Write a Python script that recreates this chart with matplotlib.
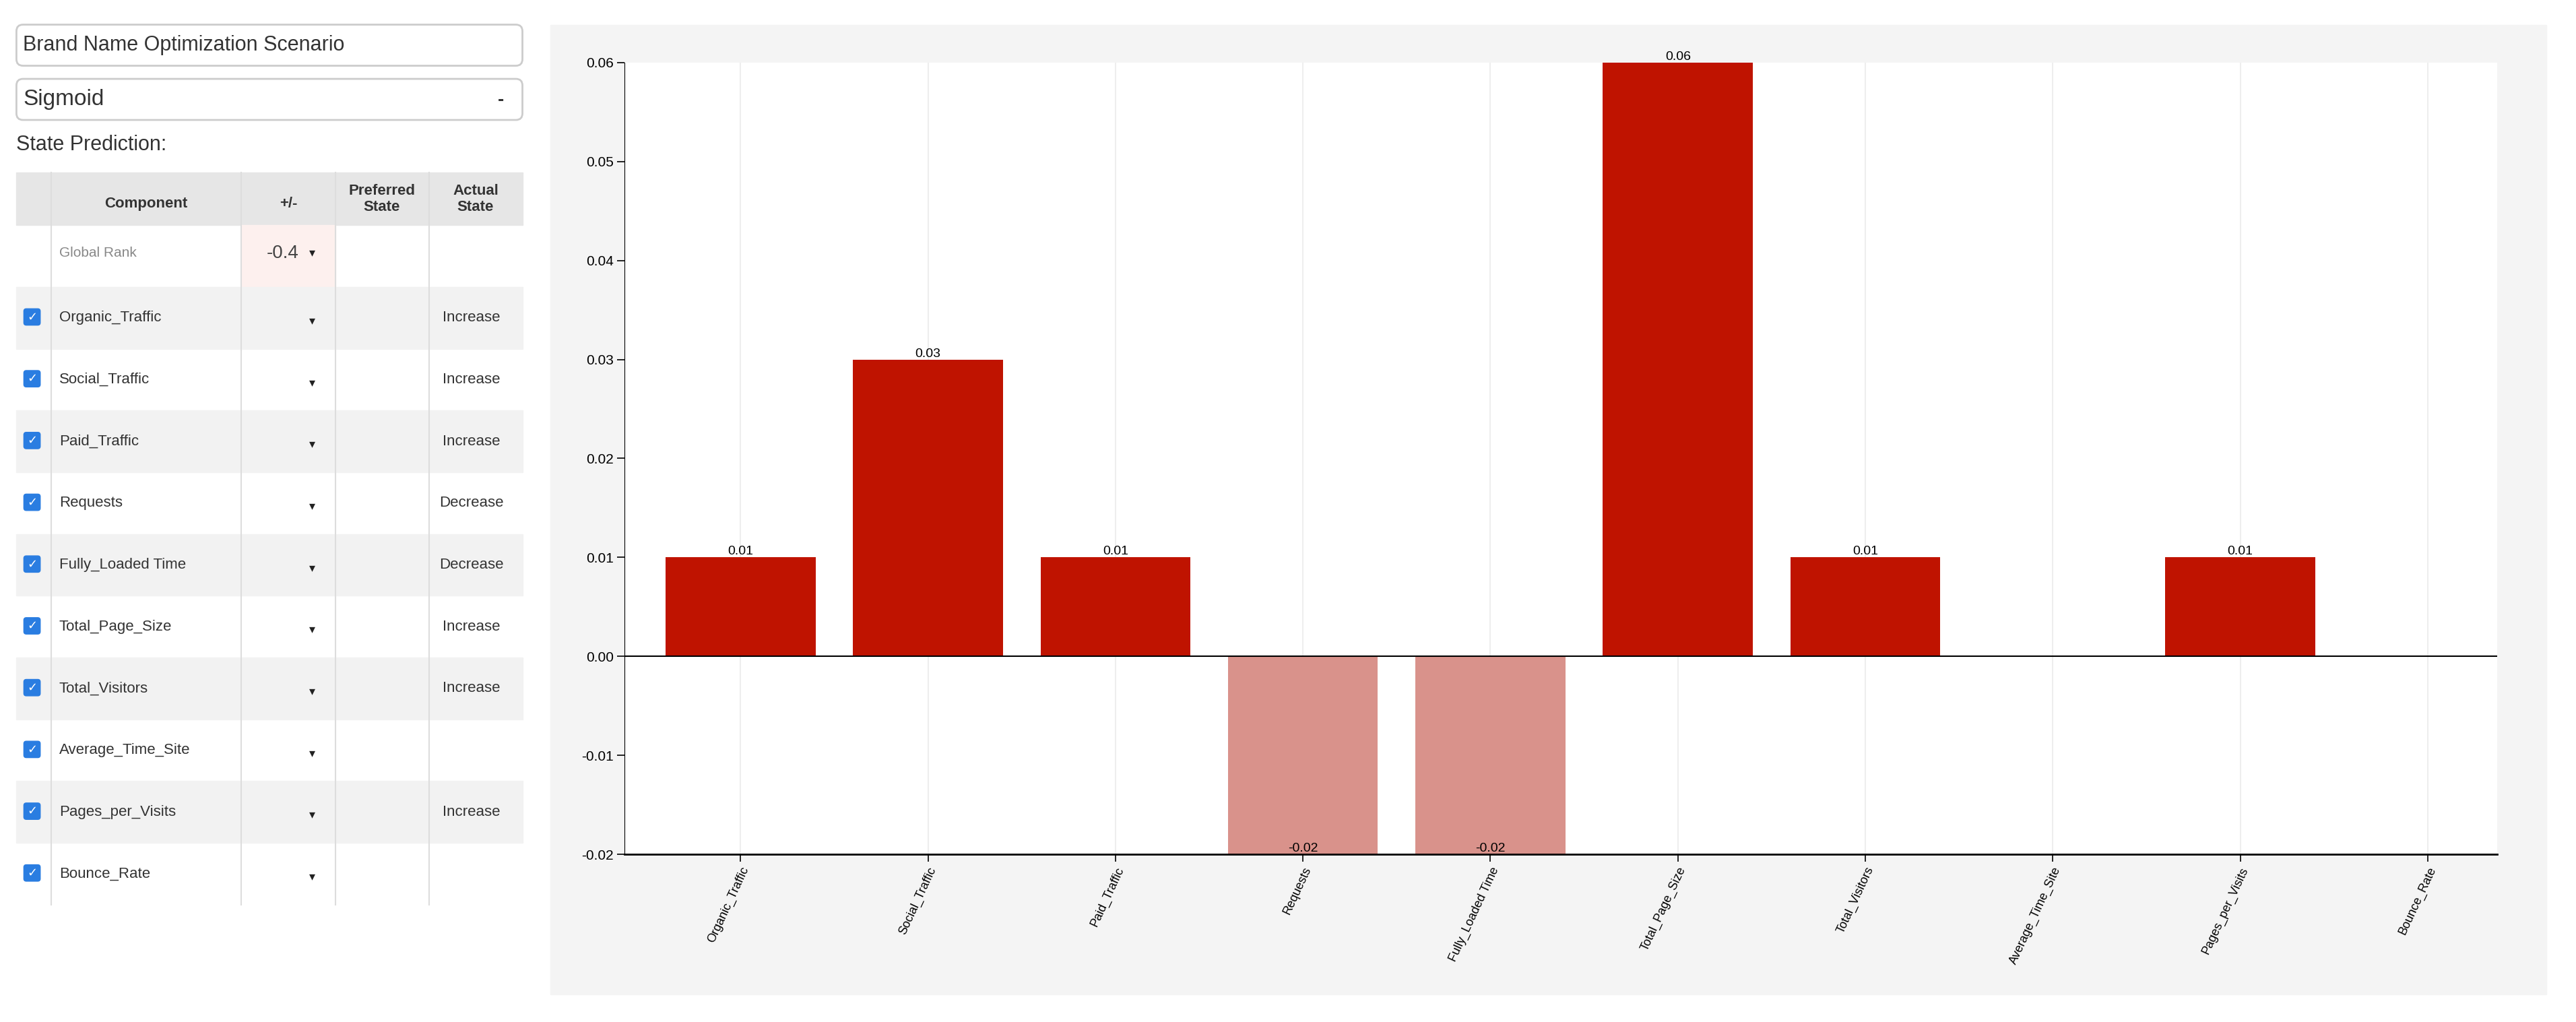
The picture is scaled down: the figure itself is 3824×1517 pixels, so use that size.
import matplotlib
matplotlib.use('Agg')
import matplotlib.pyplot as plt
from matplotlib.patches import Rectangle, FancyBboxPatch

components = ['Organic_Traffic', 'Social_Traffic', 'Paid_Traffic', 'Requests', 'Fully_Loaded Time',
              'Total_Page_Size', 'Total_Visitors', 'Average_Time_Site', 'Pages_per_Visits', 'Bounce_Rate']
values = [0.01, 0.03, 0.01, -0.02, -0.02, 0.06, 0.01, 0.0, 0.01, 0.0]
actual_state = ['Increase', 'Increase', 'Increase', 'Decrease', 'Decrease',
                'Increase', 'Increase', '', 'Increase', '']
yticks = [-0.02, -0.01, 0.0, 0.01, 0.02, 0.03, 0.04, 0.05, 0.06]

plt.rcParams['font.family'] = ['Liberation Sans', 'DejaVu Sans']
fig = plt.figure(figsize=(38.24, 15.17), dpi=100)

# background / left panel in "screen" coordinates (0..1568 x 0..622)
bg = fig.add_axes([0, 0, 1, 1])
bg.set_xlim(0, 1568)
bg.set_ylim(622, 0)
bg.axis('off')

# grey chart panel
bg.add_patch(Rectangle((335, 15), 1215, 590, color='#f4f4f4', zorder=0))

# text input and dropdown
for y0, txt, fs in [(15, 'Brand Name Optimization Scenario', 22), (48, 'Sigmoid', 24)]:
    bg.add_patch(FancyBboxPatch((10, y0), 308, 25, boxstyle='round,pad=0,rounding_size=4',
                                fc='white', ec='#cccccc', lw=2))
    bg.text(14, y0 + 12.5, txt, fontsize=fs, va='center', color='#333333')
bg.text(305, 61, '-', fontsize=20, va='center', ha='center', color='#333333', weight='bold')
bg.text(10, 88, 'State Prediction:', fontsize=22, va='center', color='#333333')

# table
cols = [10, 31, 147, 204, 261, 318]
head_top, head_bot = 105, 137
row_h = 37.6
bg.add_patch(Rectangle((10, head_top), 308, head_bot - head_top, color='#e6e6e6', zorder=1))
hdr = [('Component', 89), ('+/-', 175.5), ('Preferred\nState', 232.5), ('Actual\nState', 289.5)]
for t, x in hdr:
    bg.text(x, 121 if '\n' in t else 124, t, fontsize=16, weight='bold', ha='center', va='center',
            color='#333333', zorder=3)

# global rank row
gr_top = head_bot
bg.add_patch(Rectangle((147, gr_top), 57, row_h, color='#fdf0ee', zorder=1))
bg.text(36, gr_top + 17, 'Global Rank', fontsize=15, va='center', color='#888888', zorder=3)
bg.text(172, gr_top + 17, '-0.4', fontsize=20, va='center', ha='center', color='#444444', zorder=3)
bg.text(190, gr_top + 17, '\u25BE', fontsize=13, va='center', ha='center', color='#222222', zorder=3)

for i, (name, st) in enumerate(zip(components, actual_state)):
    top = gr_top + row_h * (i + 1)
    cy = top + row_h / 2
    if i % 2 == 0:
        bg.add_patch(Rectangle((10, top), 308, row_h, color='#f2f2f2', zorder=1))
    bg.add_patch(FancyBboxPatch((14.5, cy - 5.5), 10, 10, boxstyle='round,pad=0,rounding_size=1.5',
                                fc='#2a7de1', ec='#2a7de1', zorder=3))
    bg.text(19.5, cy - 0.5, '\u2713', fontsize=13, color='white', ha='center', va='center',
            weight='bold', zorder=4, family=['DejaVu Sans'])
    bg.text(36, cy, name, fontsize=16, va='center', color='#333333', zorder=3)
    bg.text(190, cy + 2, '\u25BE', fontsize=13, va='center', ha='center', color='#222222', zorder=3)
    bg.text(287, cy, st, fontsize=16, va='center', ha='center', color='#333333', zorder=3)

bottom_tbl = gr_top + row_h * 11
for x in cols[1:-1]:
    bg.plot([x, x], [head_top, bottom_tbl], color='#dddddd', lw=1.5, zorder=2)

# bar chart
ax = fig.add_axes([380 / 1568, 1 - 520 / 622, 1140 / 1568, 482 / 622])
ax.set_facecolor('white')
x = range(len(components))
colors = ['#bf1300' if v >= 0 else '#d9928b' for v in values]
ax.bar(x, values, width=0.8, color=colors, zorder=2)
for i, v in enumerate(values):
    if v > 0:
        ax.text(i, v, f'{v:.2f}', ha='center', va='bottom', fontsize=14)
    elif v < 0:
        ax.text(i, -0.02, f'{v:.2f}', ha='center', va='bottom', fontsize=14)
ax.axhline(0, color='black', lw=1.5, zorder=3)
ax.set_ylim(-0.02, 0.06)
ax.set_xlim(-0.62, 9.37)
ax.set_yticks(yticks)
ax.set_yticklabels([f'{t:.2f}' for t in yticks], fontsize=15)
ax.set_xticks(list(x))
ax.set_xticklabels(components, rotation=65, ha='right', rotation_mode='anchor', fontsize=13)
ax.xaxis.grid(True, color='#eeeeee', lw=1.5, zorder=0)
for s in ['top', 'right']:
    ax.spines[s].set_visible(False)
ax.spines['bottom'].set_linewidth(2)
ax.tick_params(length=8, width=1.2)

fig.savefig('out.png', dpi=100, facecolor='white')
